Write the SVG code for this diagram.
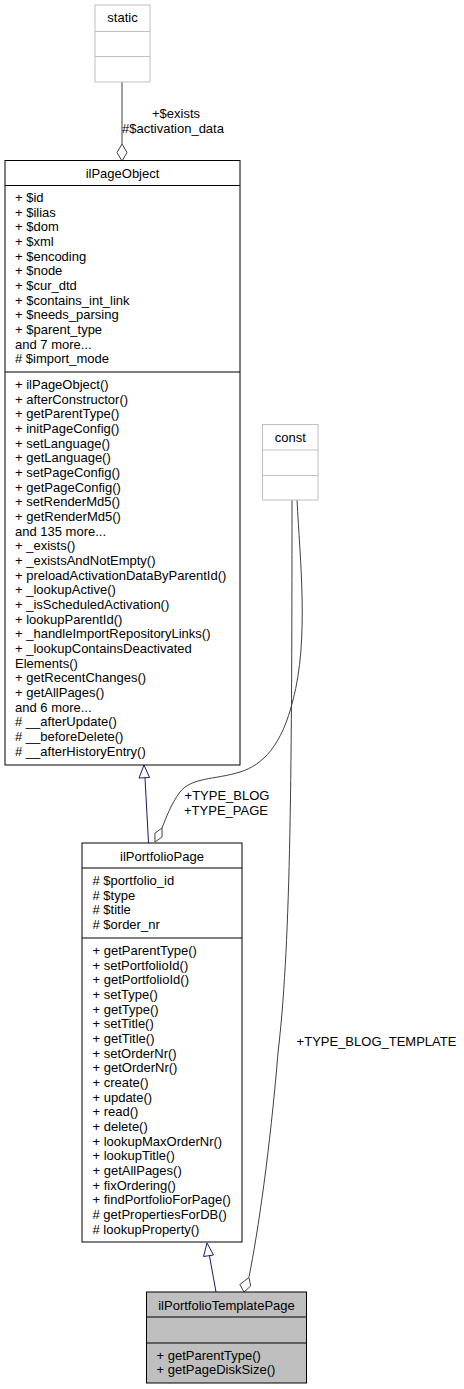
<svg xmlns="http://www.w3.org/2000/svg" width="464" height="1389" viewBox="0 0 464 1389">
<style>
text{font-family:"Liberation Sans",Arial,Helvetica,sans-serif;font-size:13px;fill:#000}
.c{text-anchor:middle}
.box{fill:#fff;stroke:#000;stroke-width:1}
.gbox{fill:#fff;stroke:#bfbfbf;stroke-width:1}
.cur{fill:#bfbfbf;stroke:#000;stroke-width:1}
.ln{stroke:#000;stroke-width:1}
.gln{stroke:#bfbfbf;stroke-width:1}
.agg{fill:none;stroke:#404040;stroke-width:1}
.dia{fill:#fff;stroke:#404040;stroke-width:1}
.inh{fill:none;stroke:#191970;stroke-width:1}
.tri{fill:#fff;stroke:#191970;stroke-width:1}
</style>
<rect width="464" height="1389" fill="#fff"/>
<g id="connectors">
  <path class="agg" d="M122,82 L122,144"/>
  <polygon class="dia" points="122,144 117,152.5 122,161 127,152.5"/>
  <text class="c" x="176" y="117.5">+$exists</text>
  <text class="c" x="173" y="132.5">#$activation_data</text>

  <path class="inh" d="M148.5,843 L145,778"/>
  <polygon class="tri" points="144,765 139,778 149.5,777.5"/>

  <path class="agg" d="M297,500 C300,560 309,640 293,700 C282,745 263,765 240,772 C214,780 192,777 180,792 C171,804 166,818 162,828"/>
  <polygon class="dia" points="162,828 162.1,836.8 155,842 154.9,833.2"/>
  <text class="c" x="227" y="799.5">+TYPE_BLOG</text>
  <text class="c" x="226" y="814.5">+TYPE_PAGE</text>

  <path class="agg" d="M292,500 C292,800 290,950 278,1053 C270,1150 258,1232 249,1277"/>
  <polygon class="dia" points="249,1277.5 250.7,1286 244,1292 239.8,1284.5"/>
  <text class="c" x="376.5" y="1046">+TYPE_BLOG_TEMPLATE</text>

  <path class="inh" d="M216,1292 L209.5,1256"/>
  <polygon class="tri" points="207,1243 203.5,1256.5 213.5,1255"/>
</g>
<g id="static">
  <rect class="gbox" x="95" y="5" width="55" height="77"/>
  <line class="gln" x1="95" y1="31.5" x2="150" y2="31.5"/>
  <line class="gln" x1="95" y1="56.5" x2="150" y2="56.5"/>
  <text class="c" x="122.5" y="22">static</text>
</g>
<g id="const">
  <rect class="gbox" x="262.5" y="424.5" width="55.5" height="75.5"/>
  <line class="gln" x1="262.5" y1="450" x2="318" y2="450"/>
  <line class="gln" x1="262.5" y1="475.5" x2="318" y2="475.5"/>
  <text class="c" x="290.3" y="441.5">const</text>
</g>
<g id="ilPageObject">
  <rect class="box" x="5" y="160.5" width="235" height="604.5"/>
  <line class="ln" x1="5" y1="185.5" x2="240" y2="185.5"/>
  <line class="ln" x1="5" y1="372" x2="240" y2="372"/>
  <text class="c" x="122.5" y="178">ilPageObject</text>
  <text x="15" y="202">+ $id</text>
  <text x="15" y="216.67">+ $ilias</text>
  <text x="15" y="231.33">+ $dom</text>
  <text x="15" y="246">+ $xml</text>
  <text x="15" y="260.67">+ $encoding</text>
  <text x="15" y="275.33">+ $node</text>
  <text x="15" y="290">+ $cur_dtd</text>
  <text x="15" y="304.67">+ $contains_int_link</text>
  <text x="15" y="319.33">+ $needs_parsing</text>
  <text x="15" y="334">+ $parent_type</text>
  <text x="15" y="348.67">and 7 more...</text>
  <text x="15" y="363.33"># $import_mode</text>
  <text x="15" y="389">+ ilPageObject()</text>
  <text x="15" y="403.67">+ afterConstructor()</text>
  <text x="15" y="418.33">+ getParentType()</text>
  <text x="15" y="433">+ initPageConfig()</text>
  <text x="15" y="447.67">+ setLanguage()</text>
  <text x="15" y="462.33">+ getLanguage()</text>
  <text x="15" y="477">+ setPageConfig()</text>
  <text x="15" y="491.67">+ getPageConfig()</text>
  <text x="15" y="506.33">+ setRenderMd5()</text>
  <text x="15" y="521">+ getRenderMd5()</text>
  <text x="15" y="535.67">and 135 more...</text>
  <text x="15" y="550.33">+ _exists()</text>
  <text x="15" y="565">+ _existsAndNotEmpty()</text>
  <text x="15" y="579.67">+ preloadActivationDataByParentId()</text>
  <text x="15" y="594.33">+ _lookupActive()</text>
  <text x="15" y="609">+ _isScheduledActivation()</text>
  <text x="15" y="623.67">+ lookupParentId()</text>
  <text x="15" y="638.33">+ _handleImportRepositoryLinks()</text>
  <text x="15" y="653">+ _lookupContainsDeactivated</text>
  <text x="15" y="667.67">Elements()</text>
  <text x="15" y="682.33">+ getRecentChanges()</text>
  <text x="15" y="697">+ getAllPages()</text>
  <text x="15" y="711.67">and 6 more...</text>
  <text x="15" y="726.33"># __afterUpdate()</text>
  <text x="15" y="741"># __beforeDelete()</text>
  <text x="15" y="755.67"># __afterHistoryEntry()</text>
</g>
<g id="ilPortfolioPage">
  <rect class="box" x="82" y="843" width="160" height="399"/>
  <line class="ln" x1="82" y1="868" x2="242" y2="868"/>
  <line class="ln" x1="82" y1="938" x2="242" y2="938"/>
  <text class="c" x="162" y="861">ilPortfolioPage</text>
  <text x="92.5" y="885"># $portfolio_id</text>
  <text x="92.5" y="899.67"># $type</text>
  <text x="92.5" y="914.33"># $title</text>
  <text x="92.5" y="929"># $order_nr</text>
  <text x="92.5" y="955">+ getParentType()</text>
  <text x="92.5" y="969.67">+ setPortfolioId()</text>
  <text x="92.5" y="984.33">+ getPortfolioId()</text>
  <text x="92.5" y="999">+ setType()</text>
  <text x="92.5" y="1013.67">+ getType()</text>
  <text x="92.5" y="1028.33">+ setTitle()</text>
  <text x="92.5" y="1043">+ getTitle()</text>
  <text x="92.5" y="1057.67">+ setOrderNr()</text>
  <text x="92.5" y="1072.33">+ getOrderNr()</text>
  <text x="92.5" y="1087">+ create()</text>
  <text x="92.5" y="1101.67">+ update()</text>
  <text x="92.5" y="1116.33">+ read()</text>
  <text x="92.5" y="1131">+ delete()</text>
  <text x="92.5" y="1145.67">+ lookupMaxOrderNr()</text>
  <text x="92.5" y="1160.33">+ lookupTitle()</text>
  <text x="92.5" y="1175">+ getAllPages()</text>
  <text x="92.5" y="1189.67">+ fixOrdering()</text>
  <text x="92.5" y="1204.33">+ findPortfolioForPage()</text>
  <text x="92.5" y="1219"># getPropertiesForDB()</text>
  <text x="92.5" y="1233.67"># lookupProperty()</text>
</g>
<g id="ilPortfolioTemplatePage">
  <rect class="cur" x="146.5" y="1292" width="160" height="91"/>
  <line class="ln" x1="146.5" y1="1317" x2="306.5" y2="1317"/>
  <line class="ln" x1="146.5" y1="1343" x2="306.5" y2="1343"/>
  <text class="c" x="226.5" y="1310">ilPortfolioTemplatePage</text>
  <text x="156.5" y="1359.5">+ getParentType()</text>
  <text x="156.5" y="1374.2">+ getPageDiskSize()</text>
</g>
</svg>
